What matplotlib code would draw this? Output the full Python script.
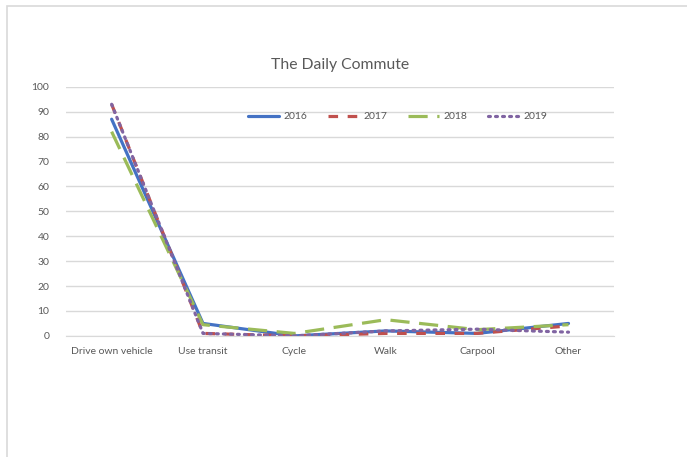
import matplotlib.pyplot as plt
from matplotlib.patches import Rectangle

plt.rcParams['font.family'] = ['Lato', 'DejaVu Sans']

# Commute mode shares (%) by year
modes = ["Drive own vehicle", "Use transit", "Cycle", "Walk", "Carpool", "Other"]
years = ["2016", "2017", "2018", "2019"]
share_2016 = [87, 5, 0, 2, 1, 5]
share_2017 = [93, 1, 0, 1, 1, 4]
share_2018 = [82, 4.5, 1, 6.5, 2.5, 4.5]
share_2019 = [93, 1, 0, 2, 2.7, 1.5]

colors = ["#4472C4", "#C0504D", "#9BBB59", "#8064A2"]
styles = ["-", (0, (3, 3)), (0, (6, 3)), (0, (0.6, 1.6))]
caps = ["butt", "butt", "butt", "round"]
text_color = "#595959"

fig = plt.figure(figsize=(6.87, 4.57), dpi=100)
ax = fig.add_axes([0.096, 0.265, 0.798, 0.545])

# Chart-area border (top and left edges show in the frame)
fig.patches.append(Rectangle((6.5 / 687, -0.1), 1.2, 1.1 - 6.5 / 457,
                             transform=fig.transFigure, fill=False,
                             edgecolor="#D9D9D9", linewidth=1.2))

x = list(range(len(modes)))
for yr, vals, c, ls, cap in zip(years, [share_2016, share_2017, share_2018, share_2019],
                                colors, styles, caps):
    ax.plot(x, vals, color=c, linestyle=ls, linewidth=2.3, label=yr,
            dash_capstyle=cap, solid_capstyle="round")

ax.set_xlim(-0.5, len(modes) - 0.5)
ax.set_ylim(0, 100)
ax.set_yticks(range(0, 101, 10))
ax.set_xticks(x)
ax.set_xticklabels(modes)
ax.tick_params(length=0, colors=text_color, labelsize=7.5, pad=8)
ax.tick_params(axis="y", pad=12)
ax.grid(axis="y", color="#D9D9D9", linewidth=1)
ax.set_axisbelow(True)
for side in ["top", "right", "left"]:
    ax.spines[side].set_visible(False)
ax.spines["bottom"].set_color("#D9D9D9")

ax.set_title("The Daily Commute", color=text_color, fontsize=11.3, pad=13)
ax.legend(loc="center", bbox_to_anchor=(0.605, 0.88), ncol=4, frameon=False,
          fontsize=7.5, labelcolor=text_color, handlelength=3.0, columnspacing=2.0,
          handletextpad=0.4)

fig.savefig("out.png", dpi=100)
